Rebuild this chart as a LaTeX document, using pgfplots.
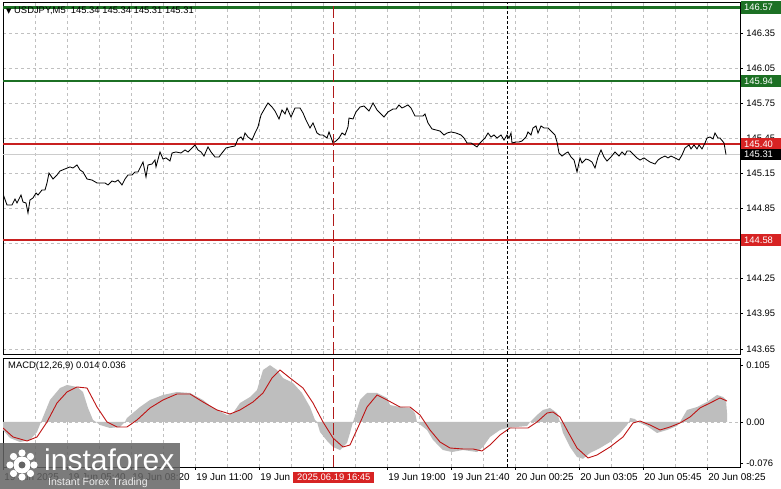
\documentclass[border=0pt]{standalone}
\usepackage{pgfplots}
\pgfplotsset{compat=1.18}
\usepackage{fontspec}
\setmainfont{Liberation Sans}
\newfontfamily\dejavu{DejaVu Sans}
\definecolor{lvgreen}{RGB}{28,112,36}
\definecolor{lvred}{RGB}{200,32,32}
\definecolor{boxred}{RGB}{215,35,35}
\definecolor{gridgray}{RGB}{192,192,192}
\definecolor{histgray}{RGB}{190,190,190}
\definecolor{sigred}{RGB}{190,20,20}
\definecolor{vred}{RGB}{175,25,25}
\definecolor{logogray}{RGB}{100,100,100}
\pgfplotsset{
  mtstyle/.style={
    scale only axis, xmin=3, xmax=740,
    axis line style={black, line width=0.9pt},
    tick style={black, line width=0.6pt},
    tick align=outside,
    major tick length=3pt, minor tick length=0pt,
    grid style={gridgray, dash pattern=on 3pt off 3pt, line width=0.6pt},
    minor grid style={gridgray, dash pattern=on 3pt off 3pt, line width=0.6pt},
    xtick={3,67,131,195,259,323,387,451,515,579,643,707},
    minor xtick={35,99,163,227,291,355,419,483,547,611,675},
    xmajorgrids, xminorgrids,
    ytick pos=right, yticklabel pos=right,
    xtick pos=left,
    clip mode=individual,
    every tick label/.append style={font=\fontsize{9.4}{11}\selectfont},
  }
}
\begin{document}
\fontsize{9.4}{11}\selectfont
\begin{tikzpicture}[x=1pt,y=1pt]
\useasboundingbox (0,0) rectangle (781,489);
\fill[white] (0,0) rectangle (781,489);
% ---------------- price panel
\begin{axis}[mtstyle, at={(3pt,135pt)}, anchor=south west, width=737pt, height=352pt,
  ymin=143.606, ymax=146.615,
  xticklabels={}, xtick style={draw=none},
  ytick={143.65,143.95,144.25,144.55,144.85,145.15,145.45,145.75,146.05,146.35},
  yticklabels={143.65,143.95,144.25,{},144.85,145.15,145.45,145.75,146.05,146.35},
  ymajorgrids]
\addplot[lvgreen, line width=2.6pt] coordinates {(3,146.57) (740,146.57)};
\addplot[lvgreen, line width=2.4pt] coordinates {(3,145.94) (740,145.94)};
\addplot[lvred, line width=2.4pt] coordinates {(3,145.40) (740,145.40)};
\addplot[lvred, line width=2.6pt] coordinates {(3,144.58) (740,144.58)};
\addplot[gray!40, line width=0.6pt] coordinates {(3,145.31) (740,145.31)};
\addplot[black, line width=0.85pt] coordinates {
(3,144.974) (7,144.880) (12,144.880) (15,144.931) (17,144.897) (21,144.965) (23,144.905) (26,144.897)
(28,144.812) (30,144.923) (33,144.940) (36,144.982) (38,144.965) (42,145.008) (45,145.008) (47,145.068)
(49,145.153) (53,145.102) (57,145.136) (60,145.170) (65,145.188) (70,145.205) (73,145.196) (77,145.222)
(80,145.179) (83,145.162) (87,145.102) (92,145.093) (97,145.068) (100,145.068) (105,145.068) (108,145.051)
(112,145.085) (115,145.076) (118,145.093) (122,145.051) (125,145.102) (128,145.136) (132,145.136) (135,145.162)
(138,145.162) (140,145.196) (143,145.247) (146,145.119) (148,145.222)
(152,145.230) (155,145.264) (156,145.205) (160,145.333) (163,145.273) (166,145.282) (170,145.256) (172,145.324)
(176,145.333) (181,145.324) (185,145.350) (188,145.333) (191,145.359) (195,145.393) (198,145.350) (201,145.333)
(204,145.298) (208,145.376) (211,145.333) (215,145.290) (219,145.290) (222,145.324) (226,145.367) (230,145.376)
(235,145.384) (238,145.444) (241,145.461) (243,145.435) (245,145.495) (248,145.461) (252,145.435) (255,145.495)
(258,145.547) (261,145.649) (265,145.709) (268,145.752) (272,145.717) (275,145.683) (279,145.615) (282,145.692)
(285,145.658) (287,145.709) (291,145.632) (295,145.709)
(300,145.709) (303,145.666) (306,145.606) (310,145.538) (313,145.581) (317,145.495) (320,145.478) (323,145.478)
(327,145.452) (329,145.504) (332,145.435) (333,145.410) (336,145.427) (339,145.452) (342,145.495) (345,145.478)
(348,145.547) (349,145.623) (353,145.615) (356,145.675) (360,145.717) (364,145.726) (369,145.683) (373,145.752)
(377,145.692) (380,145.666) (384,145.632) (388,145.675) (393,145.700) (396,145.700) (399,145.735) (402,145.709)
(404,145.717) (408,145.735) (411,145.709) (415,145.640) (419,145.640) (423,145.640) (425,145.658) (428,145.581)
(432,145.530) (436,145.521) (440,145.512) (444,145.478)
(447,145.495) (451,145.504) (456,145.495) (461,145.478) (464,145.452) (467,145.410) (471,145.410) (474,145.393)
(477,145.376) (480,145.410) (482,145.427) (485,145.452) (488,145.495) (491,145.461) (494,145.478) (497,145.452)
(501,145.478) (504,145.435) (507,145.478) (509,145.452) (511,145.495) (512,145.410) (516,145.418) (519,145.418)
(522,145.427) (526,145.461) (528,145.504) (531,145.478) (533,145.538) (536,145.555) (538,145.495) (541,145.555)
(544,145.538) (548,145.538) (551,145.512) (555,145.478) (557,145.418) (559,145.324) (562,145.298) (566,145.324)
(568,145.333) (571,145.290) (574,145.264) (577,145.162) (580,145.282) (582,145.239) (586,145.273) (589,145.264)
(592,145.247)
(595,145.196) (598,145.290) (601,145.350) (604,145.290) (607,145.256) (611,145.290) (615,145.333) (619,145.298)
(622,145.333) (625,145.307) (627,145.341) (630,145.341) (634,145.307) (637,145.282) (640,145.264) (644,145.282)
(647,145.264) (650,145.247) (655,145.230) (658,145.264) (661,145.282) (665,145.298) (668,145.282) (671,145.298)
(675,145.282) (679,145.264) (682,145.307) (685,145.367) (689,145.393) (691,145.359) (694,145.393) (697,145.359)
(699,145.393) (702,145.359) (705,145.410) (707,145.452) (710,145.461) (713,145.444) (715,145.495) (718,145.452)
(720,145.452) (724,145.410) (726,145.310)
};
\addplot[vred, line width=1pt, dash pattern=on 12pt off 4pt] coordinates {(333,143.606) (333,146.615)};
\addplot[black, line width=0.9pt, dash pattern=on 3pt off 2pt] coordinates {(507,143.606) (507,146.615)};
\node[fill=lvgreen, text=white, anchor=west, inner xsep=3pt, inner ysep=0pt, minimum height=12.5pt, text width=34pt] at (axis cs:741,146.57) {146.57};
\node[fill=lvgreen, text=white, anchor=west, inner xsep=3pt, inner ysep=0pt, minimum height=12pt, text width=34pt] at (axis cs:741,145.94) {145.94};
\node[fill=boxred, text=white, anchor=west, inner xsep=3pt, inner ysep=0pt, minimum height=11.5pt, text width=34pt] at (axis cs:741,145.40) {145.40};
\node[fill=black, text=white, anchor=west, inner xsep=3pt, inner ysep=0pt, minimum height=11.5pt, text width=34pt] at (axis cs:741,145.31) {145.31};
\node[fill=boxred, text=white, anchor=west, inner xsep=3pt, inner ysep=0pt, minimum height=12pt, text width=34pt] at (axis cs:741,144.58) {144.58};
\end{axis}
% ---------------- MACD panel
\begin{axis}[mtstyle, at={(3pt,22pt)}, anchor=south west, width=737pt, height=109pt,
  ymin=-0.0832, ymax=0.1183,
  xticklabels={19 Jun 2025,19 Jun 05:40,19 Jun 08:20,19 Jun 11:00,19 Jun 13:40,{},19 Jun 19:00,19 Jun 21:40,20 Jun 00:25,20 Jun 03:05,20 Jun 05:45,20 Jun 08:25},
  xticklabel style={anchor=north west, xshift=-2pt, font=\fontsize{9.9}{11}\selectfont},
  ytick={-0.076,0.105}, yticklabels={-0.076,0.105},
  extra y ticks={0}, extra y tick labels={0.00}, extra y tick style={ymajorgrids=true}]
\addplot[fill=histgray, draw=none] coordinates {
(3,0) (3,-0.0148) (10,-0.0296) (20,-0.0370) (30,-0.0333) (37,-0.0185) (41,0) (50,0.0407) (60,0.0628) (67,0.0684)
(77,0.0647) (83,0.0555) (88,0.0259) (93,0.0037) (96,0) (100,-0.0055) (110,-0.0111) (120,-0.0092) (125,0) (127,0.0074)
(140,0.0277) (150,0.0407) (163,0.0499) (177,0.0555) (190,0.0536) (203,0.0407) (213,0.0259) (227,0.0129) (233,0.0166)
(240,0.0351) (250,0.0462) (257,0.0591) (263,0.0961) (270,0.1050) (277,0.0961) (283,0.0813) (293,0.0721) (302,0.0536)
(310,0.0277) (315,0.0037) (317,0) (320,-0.0185) (328,-0.0370) (333,-0.0462) (340,-0.0518) (347,-0.0388) (350,-0.0203)
(353,0) (360,0.0407) (367,0.0536) (377,0.0536) (387,0.0444) (390,0.0314) (400,0.0277) (410,0.0259) (415,0.0166)
(417,0) (427,-0.0148) (433,-0.0333) (443,-0.0518) (452,-0.0555) (463,-0.0518) (477,-0.0555) (483,-0.0462) (490,-0.0277)
(500,-0.0148) (507,-0.0111) (517,-0.0092) (527,-0.0074) (530,0) (537,0.0129) (543,0.0222) (550,0.0259) (557,0.0166)
(560,0) (563,-0.0203) (570,-0.0462) (577,-0.0647) (583,-0.0680) (590,-0.0573) (600,-0.0481) (610,-0.0370) (620,-0.0203)
(627,-0.0055) (629,0) (630,0.0074) (635,0.0055) (638,0) (647,-0.0074) (657,-0.0203) (667,-0.0148) (677,-0.0074)
(680,0) (687,0.0222) (697,0.0277) (707,0.0370) (717,0.0499) (723,0.0462) (726,0.0407) (727,0.0166) (727,0)
};
\addplot[sigred, line width=0.9pt] coordinates {
(3,-0.0111) (13,-0.0277) (27,-0.0351) (37,-0.0277) (47,0) (57,0.0351) (67,0.0555) (77,0.0647) (87,0.0628) (97,0.0277)
(107,0) (117,-0.0092) (127,-0.0092) (137,0.0037) (150,0.0259) (163,0.0407) (177,0.0518) (190,0.0518) (203,0.0370)
(217,0.0222) (230,0.0148) (240,0.0222) (253,0.0370) (263,0.0536) (272,0.0813) (280,0.0961) (290,0.0813) (303,0.0628)
(313,0.0351) (323,0) (333,-0.0296) (343,-0.0462) (350,-0.0425) (360,-0.0018) (367,0.0277) (377,0.0499) (387,0.0407)
(400,0.0277) (410,0.0277) (420,0.0129) (430,-0.0148) (440,-0.0370) (450,-0.0481) (463,-0.0499) (473,-0.0499)
(482,-0.0536) (490,-0.0425) (500,-0.0240) (510,-0.0111) (520,-0.0111) (528,-0.0111) (537,0) (547,0.0166) (553,0.0185)
(560,0.0092) (567,-0.0148) (577,-0.0481) (588,-0.0665) (597,-0.0610) (610,-0.0462) (623,-0.0277) (633,-0.0018)
(640,0.0018) (650,-0.0055) (660,-0.0148) (670,-0.0092) (680,-0.0018) (690,0.0092) (700,0.0259) (710,0.0351)
(720,0.0444) (727,0.0388)
};
\addplot[vred, line width=1pt, dash pattern=on 12pt off 4pt] coordinates {(333,-0.0832) (333,0.1183)};
\addplot[black, line width=0.9pt, dash pattern=on 3pt off 2pt] coordinates {(507,-0.0832) (507,0.1183)};
\end{axis}
% ---------------- texts
\node[anchor=west, inner sep=0pt] at (6,478) {{\dejavu\fontsize{7}{8}\selectfont ▼}\ USDJPY,M5\ \ 145.34 145.34 145.31 145.31};
\node[anchor=west, inner sep=0pt] at (8,123) {MACD(12,26,9) 0.014 0.036};
\node[fill=boxred, text=white, anchor=west, inner xsep=4pt, inner ysep=0pt, minimum height=11.5pt] at (293,11.5) {2025.06.19 16:45};
% ---------------- logo
\fill[logogray, opacity=0.85] (0,0) rectangle (180,46);
\fill[white] (22,24) circle (8.5);
\foreach \a in {0,45,...,315} \fill[white] (22,24) ++(\a:12) circle (3.6);
\fill[logogray] (22,24) circle (3.5);
\node[anchor=base west, text=white, inner sep=0pt, font=\fontsize{30}{30}\selectfont] at (44,18) {instaforex};
\node[anchor=base west, text=white!85!gray, inner sep=0pt, font=\fontsize{10.5}{11}\selectfont] at (48,3) {Instant Forex Trading};
\end{tikzpicture}
\end{document}
